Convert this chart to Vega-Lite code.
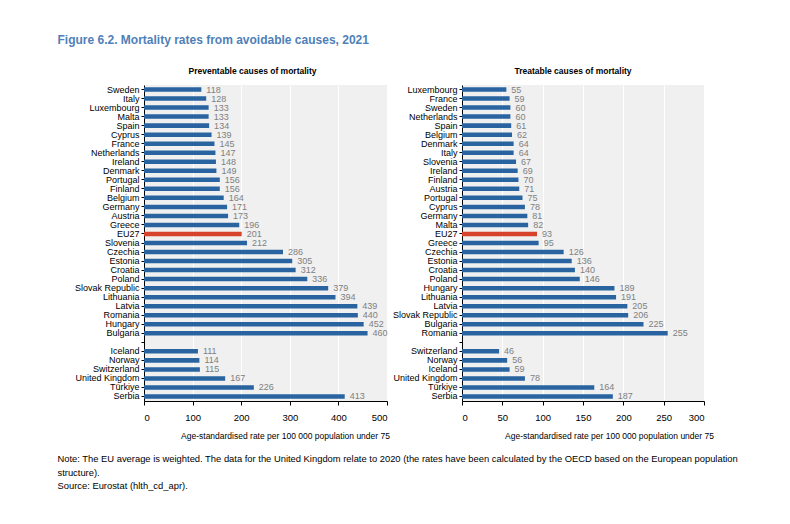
{
  "$schema": "https://vega.github.io/schema/vega-lite/v6.json",
  "padding": {"left": 57, "top": 33, "right": 5, "bottom": 5},
  "config": {
    "font": "Liberation Sans",
    "view": {"fill": "#f0f0f0", "stroke": null},
    "axis": {
      "labelFont": "Liberation Sans",
      "titleFont": "Liberation Sans",
      "labelColor": "#000000",
      "titleColor": "#000000",
      "domainColor": "#000000",
      "tickColor": "#000000",
      "labelFontSize": 9,
      "titleFontSize": 8.5,
      "titleFontWeight": "normal"
    },
    "concat": {"spacing": 2}
  },
  "title": {
    "text": "Figure 6.2. Mortality rates from avoidable causes, 2021",
    "anchor": "start",
    "font": "Liberation Sans",
    "fontSize": 12,
    "fontWeight": "bold",
    "color": "#4f7fb8",
    "offset": 20
  },
  "datasets": {
    "preventable": [
      {"country": "Sweden", "value": 118},
      {"country": "Italy", "value": 128},
      {"country": "Luxembourg", "value": 133},
      {"country": "Malta", "value": 133},
      {"country": "Spain", "value": 134},
      {"country": "Cyprus", "value": 139},
      {"country": "France", "value": 145},
      {"country": "Netherlands", "value": 147},
      {"country": "Ireland", "value": 148},
      {"country": "Denmark", "value": 149},
      {"country": "Portugal", "value": 156},
      {"country": "Finland", "value": 156},
      {"country": "Belgium", "value": 164},
      {"country": "Germany", "value": 171},
      {"country": "Austria", "value": 173},
      {"country": "Greece", "value": 196},
      {"country": "EU27", "value": 201},
      {"country": "Slovenia", "value": 212},
      {"country": "Czechia", "value": 286},
      {"country": "Estonia", "value": 305},
      {"country": "Croatia", "value": 312},
      {"country": "Poland", "value": 336},
      {"country": "Slovak Republic", "value": 379},
      {"country": "Lithuania", "value": 394},
      {"country": "Latvia", "value": 439},
      {"country": "Romania", "value": 440},
      {"country": "Hungary", "value": 452},
      {"country": "Bulgaria", "value": 460},
      {"country": "Iceland", "value": 111},
      {"country": "Norway", "value": 114},
      {"country": "Switzerland", "value": 115},
      {"country": "United Kingdom", "value": 167},
      {"country": "Türkiye", "value": 226},
      {"country": "Serbia", "value": 413}
    ],
    "treatable": [
      {"country": "Luxembourg", "value": 55},
      {"country": "France", "value": 59},
      {"country": "Sweden", "value": 60},
      {"country": "Netherlands", "value": 60},
      {"country": "Spain", "value": 61},
      {"country": "Belgium", "value": 62},
      {"country": "Denmark", "value": 64},
      {"country": "Italy", "value": 64},
      {"country": "Slovenia", "value": 67},
      {"country": "Ireland", "value": 69},
      {"country": "Finland", "value": 70},
      {"country": "Austria", "value": 71},
      {"country": "Portugal", "value": 75},
      {"country": "Cyprus", "value": 78},
      {"country": "Germany", "value": 81},
      {"country": "Malta", "value": 82},
      {"country": "EU27", "value": 93},
      {"country": "Greece", "value": 95},
      {"country": "Czechia", "value": 126},
      {"country": "Estonia", "value": 136},
      {"country": "Croatia", "value": 140},
      {"country": "Poland", "value": 146},
      {"country": "Hungary", "value": 189},
      {"country": "Lithuania", "value": 191},
      {"country": "Latvia", "value": 205},
      {"country": "Slovak Republic", "value": 206},
      {"country": "Bulgaria", "value": 225},
      {"country": "Romania", "value": 255},
      {"country": "Switzerland", "value": 46},
      {"country": "Norway", "value": 56},
      {"country": "Iceland", "value": 59},
      {"country": "United Kingdom", "value": 78},
      {"country": "Türkiye", "value": 164},
      {"country": "Serbia", "value": 187}
    ]
  },
  "vconcat": [
    {
      "title": {
        "text": [
          "Note: The EU average is weighted. The data for the United Kingdom relate to 2020 (the rates have been calculated by the OECD based on the European population",
          "structure).",
          "Source: Eurostat (hlth_cd_apr)."
        ],
        "orient": "bottom",
        "anchor": "start",
        "font": "Liberation Sans",
        "fontSize": 9.4,
        "fontWeight": "normal",
        "lineHeight": 13.5,
        "color": "#000000",
        "dx": -17,
        "offset": 15
      },
      "hconcat": [
        {
          "width": 243,
          "height": 316,
          "data": {"name": "preventable"},
          "title": {"text": "Preventable causes of mortality", "fontSize": 8.5, "fontWeight": "bold", "font": "Liberation Sans", "color": "#000000", "offset": 10, "dx": -13},
          "encoding": {
            "y": {
              "field": "country",
              "type": "nominal",
              "scale": {
                "domain": ["Sweden", "Italy", "Luxembourg", "Malta", "Spain", "Cyprus", "France", "Netherlands", "Ireland", "Denmark", "Portugal", "Finland", "Belgium", "Germany", "Austria", "Greece", "EU27", "Slovenia", "Czechia", "Estonia", "Croatia", "Poland", "Slovak Republic", "Lithuania", "Latvia", "Romania", "Hungary", "Bulgaria", " ", "Iceland", "Norway", "Switzerland", "United Kingdom", "Türkiye", "Serbia"],
                "paddingInner": 0.5,
                "paddingOuter": 0.25
              },
              "axis": {"title": null, "tickSize": 3, "labelPadding": 2, "grid": false}
            },
            "x": {
              "field": "value",
              "type": "quantitative",
              "scale": {"domain": [0, 500], "nice": false},
              "axis": {
                "title": "Age-standardised rate per 100 000 population under 75",
                "values": [0, 100, 200, 300, 400, 500],
                "tickSize": 4,
                "labelPadding": 7,
                "labelFontSize": 9.5,
                "titlePadding": 10,
                "gridColor": "#ffffff",
                "gridWidth": 1,
                "titleX": 141,
                "titleAlign": "center"
              }
            }
          },
          "layer": [
            {
              "mark": {"type": "bar"},
              "encoding": {
                "color": {"condition": {"test": "datum.country === 'EU27'", "value": "#d6432a"}, "value": "#2a64a0"}
              }
            },
            {
              "mark": {"type": "text", "align": "left", "baseline": "middle", "dx": 5, "fontSize": 9, "color": "#808080"},
              "encoding": {"text": {"field": "value", "type": "quantitative"}}
            }
          ]
        },
        {
          "width": 242,
          "height": 316,
          "data": {"name": "treatable"},
          "title": {"text": "Treatable causes of mortality", "fontSize": 8.5, "fontWeight": "bold", "font": "Liberation Sans", "color": "#000000", "offset": 10, "dx": -10},
          "encoding": {
            "y": {
              "field": "country",
              "type": "nominal",
              "scale": {
                "domain": ["Luxembourg", "France", "Sweden", "Netherlands", "Spain", "Belgium", "Denmark", "Italy", "Slovenia", "Ireland", "Finland", "Austria", "Portugal", "Cyprus", "Germany", "Malta", "EU27", "Greece", "Czechia", "Estonia", "Croatia", "Poland", "Hungary", "Lithuania", "Latvia", "Slovak Republic", "Bulgaria", "Romania", " ", "Switzerland", "Norway", "Iceland", "United Kingdom", "Türkiye", "Serbia"],
                "paddingInner": 0.5,
                "paddingOuter": 0.25
              },
              "axis": {"title": null, "tickSize": 3, "labelPadding": 2, "grid": false}
            },
            "x": {
              "field": "value",
              "type": "quantitative",
              "scale": {"domain": [0, 300], "nice": false},
              "axis": {
                "title": "Age-standardised rate per 100 000 population under 75",
                "values": [0, 50, 100, 150, 200, 250, 300],
                "tickSize": 4,
                "labelPadding": 7,
                "labelFontSize": 9.5,
                "titlePadding": 10,
                "gridColor": "#ffffff",
                "gridWidth": 1,
                "titleX": 147,
                "titleAlign": "center"
              }
            }
          },
          "layer": [
            {
              "mark": {"type": "bar"},
              "encoding": {
                "color": {"condition": {"test": "datum.country === 'EU27'", "value": "#d6432a"}, "value": "#2a64a0"}
              }
            },
            {
              "mark": {"type": "text", "align": "left", "baseline": "middle", "dx": 5, "fontSize": 9, "color": "#808080"},
              "encoding": {"text": {"field": "value", "type": "quantitative"}}
            }
          ]
        }
      ]
    }
  ]
}
